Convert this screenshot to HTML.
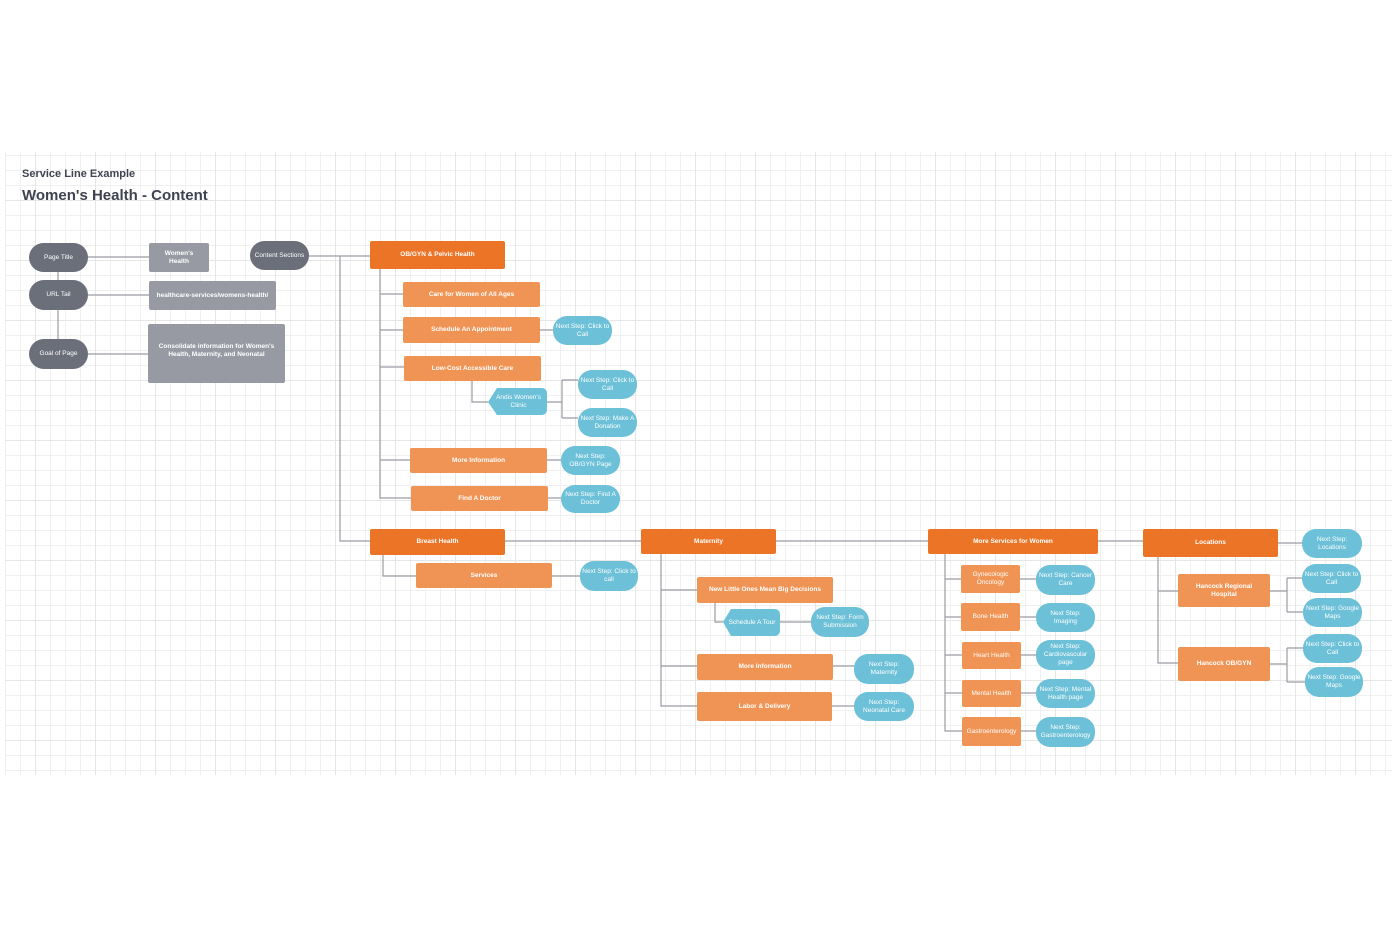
<!DOCTYPE html>
<html><head><meta charset="utf-8"><style>
body{margin:0;width:1393px;height:938px;background:#fff;position:relative;overflow:hidden;font-family:"Liberation Sans",Arial,sans-serif}
.grid{position:absolute;left:5px;top:152px;width:1387px;height:623px;
background-image:linear-gradient(to right,#e6e6e6 1px,transparent 1px),linear-gradient(to bottom,#e6e6e6 1px,transparent 1px),linear-gradient(to right,#f0f0f0 1px,transparent 1px),linear-gradient(to bottom,#f0f0f0 1px,transparent 1px);
background-size:60px 60px,60px 60px,15px 15px,15px 15px;background-position:30px 0,0 48px,0 0,0 3px}
.n{position:absolute;display:flex;align-items:center;justify-content:center;text-align:center;color:#fff;font-size:6.5px;line-height:8px;box-sizing:border-box}
.d{background:#ec7426;border-radius:2px;font-weight:bold}
.o{background:#f09455;border-radius:2px;font-weight:bold}
.b{background:#6cc0d7;border-radius:14px}
.g{background:#6b6f7a;border-radius:15px}
.l{background:#979aa3;border-radius:2px;font-weight:bold}
.t1{position:absolute;left:22px;top:168px;font-size:11px;font-weight:bold;color:#3f4350}
.t2{position:absolute;left:22px;top:187px;font-size:15px;font-weight:bold;color:#3f4350}
svg{position:absolute;left:0;top:0}
</style></head><body>
<div class="grid"></div>
<div class="t1">Service Line Example</div>
<div class="t2">Women's Health - Content</div>
<svg width="1393" height="938" fill="none" stroke="#9a9ca3" stroke-width="1.2">
<path d="M58 257V354M88 257H149M88 295H149M88 354H148"/>
<path d="M309 256H340V541H370M340 256H370"/>
<path d="M380 269V498H411M380 294H403M380 330H403M380 367H404M380 460H410M540 330H553"/>
<path d="M472 381V402H488M547 402H562M562 380V418M562 380H578M562 418H578M547 460H561M548 498H561"/>
<path d="M383 555V576H416M552 576H580"/>
<path d="M505 541H641M776 541H928M1098 541H1143M1278 543H1302"/>
<path d="M661 554V706H697M661 590H697M661 666H697M715 603V622H723M780 622H811M833 666H854M832 706H854"/>
<path d="M945 554V731H962M945 579H961M945 617H961M945 655H962M945 693H962M1020 579H1036M1020 617H1036M1021 655H1036M1021 693H1036M1021 731H1036"/>
<path d="M1158 557V663H1178M1158 591H1178M1270 591H1287M1287 578V612M1287 578H1302M1287 612H1303M1270 664H1287M1287 648V682M1287 648H1303M1287 682H1305"/>
<path d="M497 388H542a5 5 0 0 1 5 5V410a5 5 0 0 1-5 5H497L488 402Z" fill="#6cc0d7" stroke="none"/>
<path d="M731 609H775a5 5 0 0 1 5 5V631a5 5 0 0 1-5 5H731L723 622Z" fill="#6cc0d7" stroke="none"/>
</svg>
<div class="n g" style="left:29px;top:243px;width:59px;height:29px">Page Title</div>
<div class="n g" style="left:29px;top:280px;width:59px;height:30px">URL Tail</div>
<div class="n g" style="left:29px;top:339px;width:59px;height:30px">Goal of Page</div>
<div class="n l" style="left:149px;top:243px;width:60px;height:29px">Women's<br>Health</div>
<div class="n l" style="left:149px;top:281px;width:127px;height:29px">healthcare-services/womens-health/</div>
<div class="n l" style="left:148px;top:324px;width:137px;height:59px;padding-bottom:6px">Consolidate information for Women's<br>Health, Maternity, and Neonatal</div>
<div class="n g" style="left:250px;top:241px;width:59px;height:29px">Content Sections</div>

<div class="n d" style="left:370px;top:241px;width:135px;height:28px">OB/GYN &amp; Pelvic Health</div>
<div class="n o" style="left:403px;top:282px;width:137px;height:25px">Care for Women of All Ages</div>
<div class="n o" style="left:403px;top:317px;width:137px;height:26px">Schedule An Appointment</div>
<div class="n b" style="left:553px;top:316px;width:59px;height:29px">Next Step: Click to<br>Call</div>
<div class="n o" style="left:404px;top:356px;width:137px;height:25px">Low-Cost Accessible Care</div>
<div class="n" style="left:490px;top:388px;width:57px;height:27px">Andis Women's<br>Clinic</div>
<div class="n b" style="left:578px;top:370px;width:59px;height:29px">Next Step: Click to<br>Call</div>
<div class="n b" style="left:578px;top:408px;width:59px;height:29px">Next Step: Make A<br>Donation</div>
<div class="n o" style="left:410px;top:448px;width:137px;height:25px">More Information</div>
<div class="n b" style="left:561px;top:446px;width:59px;height:29px">Next Step:<br>OB/GYN Page</div>
<div class="n o" style="left:411px;top:486px;width:137px;height:25px">Find A Doctor</div>
<div class="n b" style="left:561px;top:485px;width:59px;height:28px">Next Step: Find A<br>Doctor</div>

<div class="n d" style="left:370px;top:529px;width:135px;height:26px">Breast Health</div>
<div class="n o" style="left:416px;top:563px;width:136px;height:25px">Services</div>
<div class="n b" style="left:580px;top:561px;width:58px;height:30px">Next Step: Click to<br>call</div>

<div class="n d" style="left:641px;top:529px;width:135px;height:25px">Maternity</div>
<div class="n o" style="left:697px;top:577px;width:136px;height:26px">New Little Ones Mean Big Decisions</div>
<div class="n" style="left:724px;top:609px;width:56px;height:27px">Schedule A Tour</div>
<div class="n b" style="left:811px;top:607px;width:58px;height:30px">Next Step: Form<br>Submission</div>
<div class="n o" style="left:697px;top:654px;width:136px;height:26px">More Information</div>
<div class="n b" style="left:854px;top:654px;width:60px;height:30px">Next Step:<br>Maternity</div>
<div class="n o" style="left:697px;top:692px;width:135px;height:29px">Labor &amp; Delivery</div>
<div class="n b" style="left:854px;top:692px;width:60px;height:29px">Next Step:<br>Neonatal Care</div>

<div class="n d" style="left:928px;top:529px;width:170px;height:25px">More Services for Women</div>
<div class="n o" style="left:961px;top:565px;width:59px;height:28px;font-weight:normal">Gynecologic<br>Oncology</div>
<div class="n b" style="left:1036px;top:565px;width:59px;height:30px">Next Step: Cancer<br>Care</div>
<div class="n o" style="left:961px;top:603px;width:59px;height:28px;font-weight:normal">Bone Health</div>
<div class="n b" style="left:1036px;top:603px;width:59px;height:29px">Next Step:<br>Imaging</div>
<div class="n o" style="left:962px;top:642px;width:59px;height:27px;font-weight:normal">Heart Health</div>
<div class="n b" style="left:1036px;top:640px;width:59px;height:30px">Next Step:<br>Cardiovascular<br>page</div>
<div class="n o" style="left:962px;top:680px;width:59px;height:27px;font-weight:normal">Mental Health</div>
<div class="n b" style="left:1036px;top:679px;width:59px;height:29px">Next Step: Mental<br>Health page</div>
<div class="n o" style="left:962px;top:717px;width:59px;height:29px;font-weight:normal">Gastroenterology</div>
<div class="n b" style="left:1036px;top:717px;width:59px;height:30px">Next Step:<br>Gastroenterology</div>

<div class="n d" style="left:1143px;top:529px;width:135px;height:28px">Locations</div>
<div class="n b" style="left:1302px;top:529px;width:60px;height:29px">Next Step:<br>Locations</div>
<div class="n o" style="left:1178px;top:574px;width:92px;height:33px">Hancock Regional<br>Hospital</div>
<div class="n b" style="left:1302px;top:564px;width:59px;height:29px">Next Step: Click to<br>Call</div>
<div class="n b" style="left:1303px;top:598px;width:59px;height:29px">Next Step: Google<br>Maps</div>
<div class="n o" style="left:1178px;top:647px;width:92px;height:34px">Hancock OB/GYN</div>
<div class="n b" style="left:1303px;top:634px;width:59px;height:29px">Next Step: Click to<br>Call</div>
<div class="n b" style="left:1305px;top:667px;width:58px;height:30px">Next Step: Google<br>Maps</div>
</body></html>
